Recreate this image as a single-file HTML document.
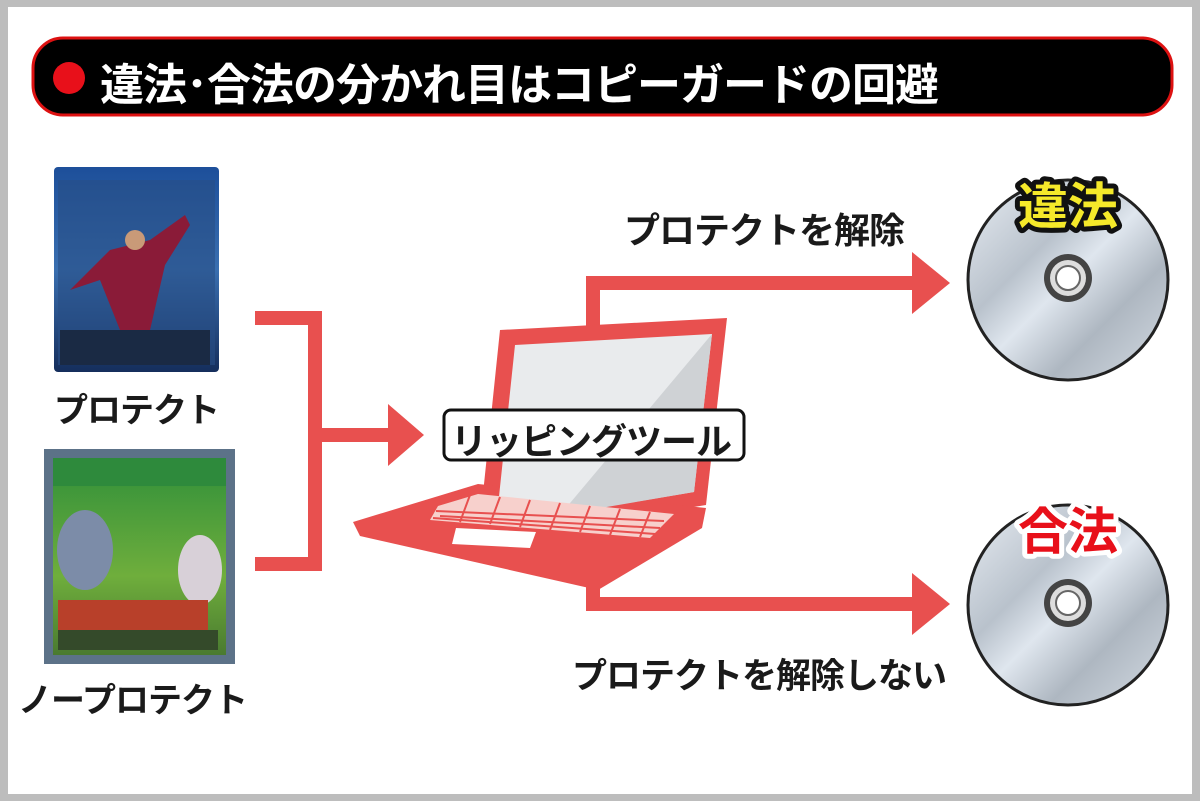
<!DOCTYPE html>
<html><head><meta charset="utf-8">
<style>
html,body{margin:0;padding:0;}
body{width:1200px;height:801px;position:relative;background:#bdbdbd;overflow:hidden;font-family:"Liberation Sans","Noto Sans CJK JP",sans-serif;}
#page{position:absolute;left:8px;top:7px;width:1184px;height:787px;background:#fff;}
.t{position:absolute;font-weight:bold;color:#1a1a1a;white-space:nowrap;font-family:"Liberation Sans","Noto Sans CJK JP",sans-serif;}
</style></head><body>
<div id="page"></div>
<svg width="1200" height="801" style="position:absolute;left:0;top:0">
<defs>
<linearGradient id="dg" x1="0" y1="0" x2="1" y2="1">
<stop offset="0" stop-color="#e8edf3"/><stop offset="0.35" stop-color="#b9c2cc"/><stop offset="0.5" stop-color="#dfe6ee"/><stop offset="0.7" stop-color="#aeb7c1"/><stop offset="1" stop-color="#d5dce4"/>
</linearGradient>
<linearGradient id="bl" x1="0" y1="0" x2="0" y2="1"><stop offset="0" stop-color="#1d4f9a"/><stop offset="0.5" stop-color="#3a6fb0"/><stop offset="1" stop-color="#152e5c"/></linearGradient>
<linearGradient id="gr" x1="0" y1="0" x2="0" y2="1"><stop offset="0" stop-color="#2f8f3a"/><stop offset="0.6" stop-color="#6fae3c"/><stop offset="1" stop-color="#4a7a30"/></linearGradient>
</defs>
<rect x="33" y="38" width="1139" height="77" rx="30" fill="#000" stroke="#d11" stroke-width="3"/>
<circle cx="69" cy="78" r="16" fill="#e8101a"/>
<rect x="54" y="167" width="165" height="205" rx="4" fill="url(#bl)"/>
<rect x="58" y="180" width="157" height="185" fill="#284f86" opacity="0.6"/>
<polygon points="110,250 150,240 185,215 190,225 165,265 150,330 120,330 100,280 70,290" fill="#8a1b38"/>
<circle cx="135" cy="240" r="10" fill="#c99a78"/>
<rect x="60" y="330" width="150" height="35" fill="#1a2a44"/>
<rect x="44" y="449" width="191" height="215" fill="#5c7288"/>
<rect x="53" y="458" width="173" height="197" fill="url(#gr)"/>
<rect x="53" y="458" width="173" height="28" fill="#2e8a3c"/>
<ellipse cx="85" cy="550" rx="28" ry="40" fill="#7c8ca8"/>
<ellipse cx="200" cy="570" rx="22" ry="35" fill="#d8d0d8"/>
<rect x="58" y="600" width="150" height="30" fill="#b8402a"/>
<rect x="58" y="630" width="160" height="20" fill="#344a2a"/>
<g fill="#e8504f">
<rect x="255" y="311" width="67" height="14"/>
<rect x="308" y="311" width="14" height="260"/>
<rect x="255" y="557" width="67" height="14"/>
<rect x="320" y="428" width="72" height="14"/>
<polygon points="388,404 424,435 388,466"/>
<rect x="586" y="276" width="14" height="55"/>
<rect x="586" y="276" width="330" height="14"/>
<polygon points="912,252 950,283 912,314"/>
<rect x="586" y="575" width="14" height="36"/>
<rect x="586" y="597" width="330" height="14"/>
<polygon points="912,573 950,604 912,635"/>
<polygon points="500,330 727,318 706,505 478,542" />
<polygon points="353,522 478,484 706,508 702,528 598,590 360,536"/>
</g>
<polygon points="515,345 712,334 694,492 496,525" fill="#e9ebed"/>
<polygon points="712,334 694,492 560,515" fill="#cfd2d5"/>
<polygon points="438,506 478,494 674,514 650,538 430,520" fill="#f7d0cc"/>
<g stroke="#e8504f" stroke-width="2">
<line x1="436" y1="511" x2="664" y2="521"/><line x1="440" y1="516" x2="660" y2="528"/><line x1="433" y1="518" x2="655" y2="534"/>
<line x1="470" y1="495" x2="460" y2="522"/><line x1="500" y1="497" x2="490" y2="524"/><line x1="530" y1="500" x2="520" y2="527"/><line x1="560" y1="503" x2="550" y2="530"/><line x1="590" y1="506" x2="580" y2="532"/><line x1="620" y1="509" x2="610" y2="535"/><line x1="650" y1="512" x2="640" y2="537"/>
</g>
<polygon points="456,528 536,532 530,548 452,544" fill="#fff"/>
<rect x="444" y="410" width="300" height="50" rx="7" fill="#fff" stroke="#111" stroke-width="3"/>
<g stroke="#222" stroke-width="3">
<circle cx="1068" cy="280" r="100" fill="url(#dg)"/>
<circle cx="1068" cy="605" r="100" fill="url(#dg)"/>
</g>
<g>
<circle cx="1068" cy="278" r="24" fill="#444"/><circle cx="1068" cy="278" r="18" fill="#ddd"/><circle cx="1068" cy="278" r="12" fill="#fff" stroke="#666" stroke-width="2"/>
<circle cx="1068" cy="603" r="24" fill="#444"/><circle cx="1068" cy="603" r="18" fill="#ddd"/><circle cx="1068" cy="603" r="12" fill="#fff" stroke="#666" stroke-width="2"/>
</g>
<text x="1068" y="224" text-anchor="middle" font-size="50" font-weight="bold" font-family="Liberation Sans, Noto Sans CJK JP, sans-serif" fill="#f5e92a" stroke="#111" stroke-width="10" paint-order="stroke" stroke-linejoin="round">違法</text>
<text x="1068" y="549" text-anchor="middle" font-size="50" font-weight="bold" font-family="Liberation Sans, Noto Sans CJK JP, sans-serif" fill="#e8101a" stroke="#fff" stroke-width="10" paint-order="stroke" stroke-linejoin="round">合法</text>
</svg>
<div class="t" style="left:100px;top:49px;font-size:44px;color:#fff;letter-spacing:-1px;">違法･合法の分かれ目はコピーガードの回避</div>
<div class="t" style="left:451px;top:413px;font-size:36px;letter-spacing:-1px;">リッピングツール</div>
<div class="t" style="left:624px;top:202px;font-size:36px;letter-spacing:-1px;">プロテクトを解除</div>
<div class="t" style="left:572px;top:648px;font-size:35px;letter-spacing:-1px;">プロテクトを解除しない</div>
<div class="t" style="left:54px;top:383px;font-size:34px;letter-spacing:-1px;">プロテクト</div>
<div class="t" style="left:18px;top:673px;font-size:34px;letter-spacing:-1px;">ノープロテクト</div>
</body></html>
